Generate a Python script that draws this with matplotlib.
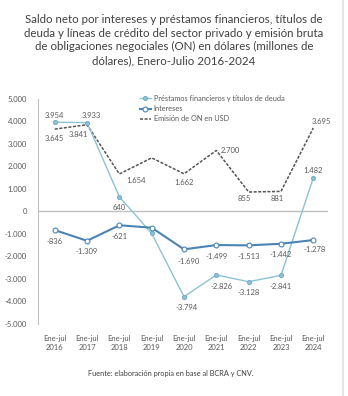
import numpy as np
import matplotlib.pyplot as plt

plt.rcParams['font.family'] = ['Lato', 'DejaVu Sans']

years = ['2016', '2017', '2018', '2019', '2020', '2021', '2022', '2023', '2024']
prestamos = [3954, 3933, 640, -985, -3794, -2826, -3128, -2841, 1482]
intereses = [-836, -1309, -621, -730, -1690, -1499, -1513, -1442, -1278]
emision_on = [3645, 3841, 1654, 2370, 1662, 2700, 855, 881, 3695]

# which points get a value label, and where (dx, dy in points)
lab_prest = [(0, 5), (3, 5), (0, -8), None, (2, -8), (4, -8), (0, -8), (0, -8), (0, 5)]
lab_inter = [(0, -8), (0, -8), (0, -8), None, (3, -9), (0, -8), (0, -8), (0, -8), (1, -7)]
lab_on = [(0, -7), (-6, -7), (12, -5), None, (0, -6), (10, 0), (-3, -5), (-3, -5), (6, 5)]

c_prest = '#8cc2d6'
c_inter = '#4a84b4'
c_on = '#555555'
c_txt = '#595959'

fig = plt.figure(figsize=(3.48, 3.96), dpi=100)
ax = fig.add_axes([0.109, 0.182, 0.834, 0.569])

x = np.arange(len(years))
ax.axhline(0, color='#bfbfbf', lw=1.0, zorder=1)
l1, = ax.plot(x, prestamos, color=c_prest, lw=1.0, marker='o', ms=3,
              mfc=c_prest, mec='#6aa9c2', mew=0.6, zorder=3,
              label='Préstamos financieros y títulos de deuda')
l2, = ax.plot(x, intereses, color=c_inter, lw=1.5, marker='o', ms=3.5,
              mfc='white', mec=c_inter, mew=0.8, zorder=4, label='Intereses')
l3, = ax.plot(x, emision_on, color=c_on, lw=1.1, ls=(0, (2, 1)), zorder=2,
              label='Emisión de ON en USD')


def fmt(v):
    return f'{v:,}'.replace(',', '.')


for vals, labs in [(prestamos, lab_prest), (intereses, lab_inter), (emision_on, lab_on)]:
    for i, (v, off) in enumerate(zip(vals, labs)):
        if off is None:
            continue
        ax.annotate(fmt(v), (i, v), xytext=off, textcoords='offset points',
                    ha='center', va='center', fontsize=5.5, color=c_txt)

ax.set_xlim(-0.52, 8.46)
ax.set_ylim(-5000, 5000)
ax.set_yticks(np.arange(-5000, 5001, 1000))
ax.set_yticklabels([fmt(v) for v in range(-5000, 5001, 1000)])
ax.set_xticks(x)
ax.set_xticklabels(['Ene-jul\n' + y for y in years], linespacing=1.4)
ax.tick_params(axis='both', length=0, labelsize=5.5, colors=c_txt, pad=8)
ax.tick_params(axis='y', pad=8)
for s in ['top', 'right', 'bottom']:
    ax.spines[s].set_visible(False)
ax.spines['left'].set_color('#bfbfbf')
ax.spines['left'].set_linewidth(0.8)

leg = ax.legend(handles=[l1, l2, l3], loc='upper left', bbox_to_anchor=(0.34, 1.03),
                frameon=False, fontsize=5.3, labelcolor=c_txt, handlelength=1.6,
                handletextpad=0.3, labelspacing=0.45, borderaxespad=0)

title = ('Saldo neto por intereses y préstamos financieros, títulos de\n'
         'deuda y líneas de crédito del sector privado y emisión bruta\n'
         'de obligaciones negociales (ON) en dólares (millones de\n'
         'dólares), Enero-Julio 2016-2024')
fig.text(0.5, 0.965, title, ha='center', va='top', fontsize=8.3, color='#404040',
         linespacing=1.3)
fig.text(0.49, 0.058, 'Fuente: elaboración propia en base al BCRA y CNV.',
         ha='center', va='center', fontsize=5.3, color='#404040')
fig.add_artist(plt.Line2D([0.987, 0.987], [0, 1], color='#e0e0e0', lw=1.2))

fig.savefig('out.png', dpi=100)
